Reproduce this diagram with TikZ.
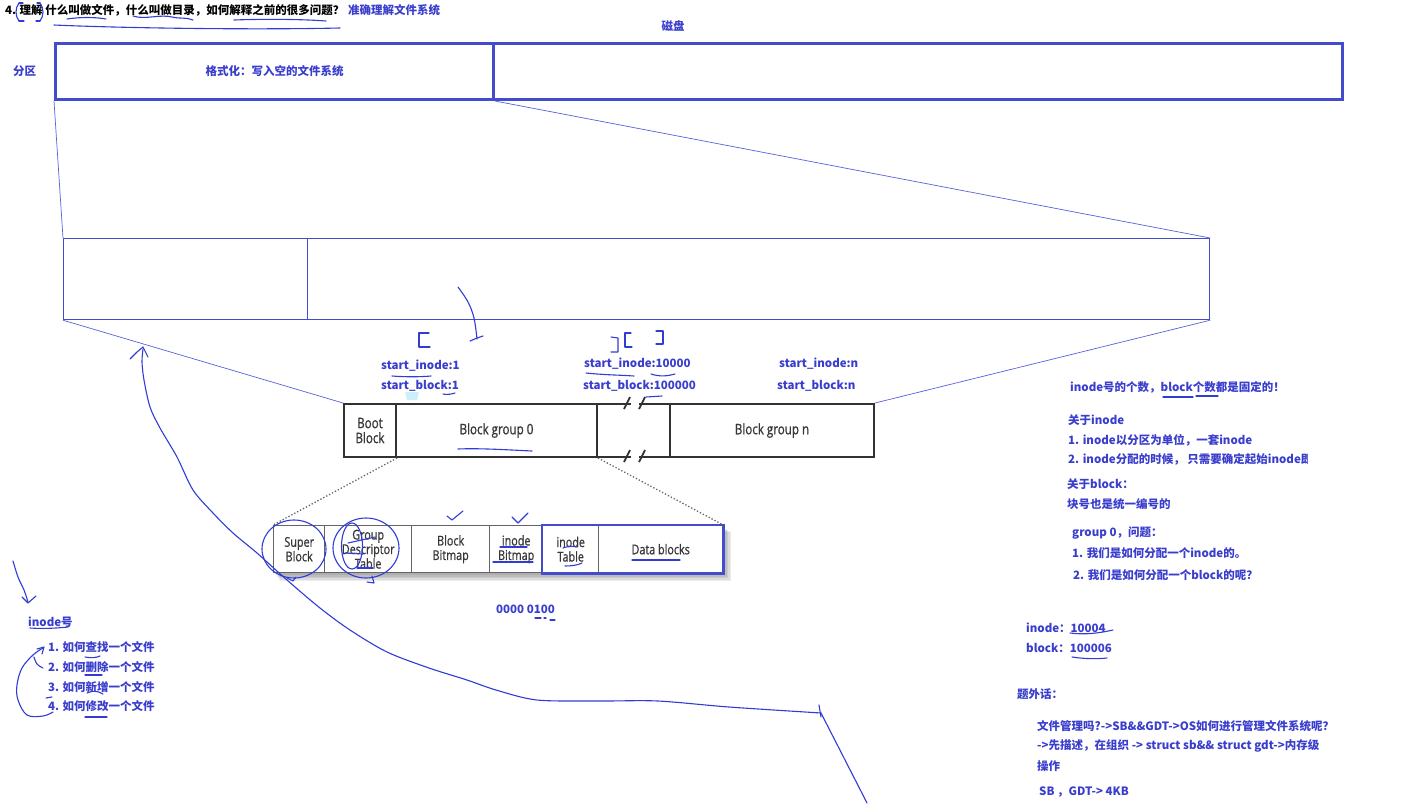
\documentclass[tikz,border=0pt]{standalone}
\usepackage{fontspec}
\setmainfont{Noto Sans CJK SC}
\newfontfamily\condf[FakeStretch=0.8, FakeBold=0.8]{Open Sans}
\definecolor{tblue}{RGB}{58,62,205}
\definecolor{inkblue}{RGB}{48,60,212}
\definecolor{rblue}{RGB}{66,76,204}
\definecolor{lblue}{RGB}{88,98,220}
\definecolor{ggray}{RGB}{50,50,50}
\definecolor{sgray}{RGB}{100,100,100}
\definecolor{gtext}{RGB}{55,55,55}
\begin{document}
\begin{tikzpicture}[x=1pt,y=-1pt]
\tikzset{
 bt/.style={inner sep=0, anchor=west, text=tblue, font=\bfseries\fontsize{11.5}{13}\selectfont},
 ink/.style={draw=inkblue, line width=1.1pt, line cap=round, line join=round},
 proj/.style={draw=lblue, line width=0.7pt},
 diskbox/.style={draw=rblue, line width=3pt, inner sep=0, anchor=north west, minimum height=56pt},
 partbox/.style={draw=rblue, line width=1.2pt, inner sep=0, anchor=north west, minimum height=81pt},
 gbox/.style={draw=ggray, line width=2pt, inner sep=0, anchor=north west, minimum height=53pt, align=center, text=gtext, font=\condf\fontsize{14.5}{16}\selectfont},
 sbox/.style={draw=sgray, line width=1.4pt, fill=white, inner sep=0, anchor=north west, minimum height=47pt, align=center, text=gtext, font=\condf\fontsize{13.5}{14.5}\selectfont},
}
\useasboundingbox[fill=white] (0,0) rectangle (1416,804);

% title
\node[bt, text=black] (title) at (5,10) {4. 理解 什么叫做文件，什么叫做目录，如何解释之前的很多问题？};
\node[bt] (acc) at (348,10) {准确理解文件系统};
\node[bt, anchor=center] (disklbl) at (673,26) {磁盘};
\node[bt] (fenqu) at (13,71) {分区};

% disk
\node[diskbox, minimum width=438pt, text=tblue, font=\bfseries\fontsize{11.5}{13}\selectfont] (part) at (54,42) {格式化：写入空的文件系统};
\node[diskbox, minimum width=849pt] (rest) at (492,42) {};

% partition detail
\node[partbox, minimum width=244pt] (lp) at (63,238) {};
\node[partbox, minimum width=902pt] (rp) at (307,238) {};

% block groups
\node[gbox, minimum width=52pt] (boot) at (343,403) {Boot\\[-1pt]Block};
\node[gbox, minimum width=201pt] (bg0) at (395,403) {Block group 0};
\node[gbox, minimum width=73pt] (gap) at (596,403) {};
\node[gbox, minimum width=204pt] (bgn) at (669,403) {Block group n};
\fill[white] (631,399) rectangle (639,407);
\fill[white] (631,452) rectangle (639,460);
\draw[ggray, line width=1.8pt] (624,409) -- (630,397) (639,409) -- (645,397);
\draw[ggray, line width=1.8pt] (624,462) -- (630,450) (639,462) -- (645,450);

% projection lines
\draw[proj] (part.south west) -- (lp.north west);
\draw[proj] (part.south east) -- (rp.north east);
\draw[proj] (lp.south west) -- (boot.north west);
\draw[proj] (rp.south east) -- (bgn.north east);

% shadow of lower box
\foreach \i in {1,...,5}{
  \fill[black, opacity=0.07] (275+\i,527+\i) rectangle (724+1.4*\i,574+1.4*\i);
}
\node[sbox, minimum width=51pt] (sb) at (273,525) {Super\\Block};
\node[sbox, minimum width=87pt] (gdt) at (324,525) {Group\\Descriptor\\Table};
\node[sbox, minimum width=78pt] (bbm) at (411,525) {Block\\Bitmap};
\node[sbox, minimum width=53pt] (ibm) at (489,525) {inode\\Bitmap};
\node[sbox, minimum width=56pt] (itb) at (542,525) {inode\\Table};
\node[sbox, minimum width=124pt] (db) at (598,525) {Data blocks};
\draw[rblue, line width=2.2pt] (itb.north west) rectangle (db.south east);

\draw[sgray, dotted, line width=1.3pt] (boot.south east) -- (sb.north west);
\draw[sgray, dotted, line width=1.3pt] (bg0.south east) -- (db.north east);

% start labels
\node[bt] (si1) at (381,366) {start\_inode:1};
\node[bt] (sb1) at (381,386) {start\_block:1};
\node[bt] (si2) at (584,364) {start\_inode:10000};
\node[bt] (sb2) at (583,386) {start\_block:100000};
\node[bt] (si3) at (779,364) {start\_inode:n};
\node[bt] (sb3) at (777,386) {start\_block:n};
\node[bt] (bits) at (496,609) {0000 0100};

% right notes
\node[bt] (r1) at (1070,387) {inode号的个数，block个数都是固定的！};
\node[bt] (r2) at (1068,420) {关于inode};
\node[bt] (r3) at (1068,440) {1. inode以分区为单位，一套inode};
\begin{scope}
\clip (1000,448) rectangle (1307,470);
\node[bt] (r4) at (1068,459) {2. inode分配的时候， 只需要确定起始inode即可};
\end{scope}
\node[bt] (r5) at (1067,484) {关于block：};
\node[bt] (r6) at (1067,504) {块号也是统一编号的};
\node[bt] (r7) at (1072,533) {group 0，问题：};
\node[bt] (r8) at (1072,553) {1. 我们是如何分配一个inode的。};
\node[bt] (r9) at (1073,575) {2. 我们是如何分配一个block的呢？};
\node[bt] (n1) at (1026,628) {inode：10004};
\node[bt] (n2) at (1026,648) {block：100006};
\node[bt] (n3) at (1017,694) {题外话：};
\node[bt] (n4) at (1037,726) {文件管理吗?->SB\&\&GDT->OS如何进行管理文件系统呢？};
\node[bt] (n5) at (1037,746) {->先描述，在组织 -> struct sb\&\& struct gdt->内存级};
\node[bt] (n6) at (1037,766) {操作};
\node[bt] (n7) at (1039,792) {SB ，GDT-> 4KB};

% left list
\node[bt] (inum) at (28,622) {inode号};
\node[bt] (l1) at (48,647) {1. 如何查找一个文件};
\node[bt] (l2) at (48,667) {2. 如何删除一个文件};
\node[bt] (l3) at (48,687) {3. 如何新增一个文件};
\node[bt] (l4) at (48,706) {4. 如何修改一个文件};

% ---- handwritten ink ----
% title
\draw[ink] (19,3) .. controls (15,8) and (15,16) .. (19,21);
\draw[ink] (40,3) .. controls (44,8) and (44,16) .. (40,21);
\draw[ink] (19,3) -- (23,3) (19,21) -- (24,21) (40,3) -- (37,3) (40,21) -- (36,21);
\draw[ink] (67,19) .. controls (80,17) and (95,17) .. (106,19);
\draw[ink] (133,16) .. controls (145,20) and (160,14) .. (172,17) .. controls (180,19) and (186,17) .. (193,20);
\draw[ink] (234,20) .. controls (260,19) and (300,19) .. (326,21);
\draw[ink] (54,25) .. controls (120,28) and (250,30) .. (340,28);

% brackets near start labels
\draw[ink] (429,333) -- (419,333) -- (419,347) -- (430,347);
\draw[ink] (611,337) -- (618,338) -- (618,352) -- (611,352);
\draw[ink] (631,333) -- (625,333) -- (625,347) -- (632,347);
\draw[ink] (656,331) -- (663,331) -- (663,344) -- (656,344);
% stroke above
\draw[ink] plot[smooth, tension=0.6] coordinates {(458,287) (468,302) (474,318) (477,339)};
\draw[ink] (470,341) -- (477,338) -- (483,336);
% underlines start labels
\draw[ink] (392,376) .. controls (405,377) and (420,377) .. (431,376);
\draw[ink] (443,394) .. controls (447,395) and (452,394) .. (455,393);
\draw[ink] (586,373) .. controls (605,375) and (620,375) .. (634,376);
\draw[ink] (651,374) .. controls (660,377) and (668,376) .. (675,374);
\draw[ink] (646,397) -- (662,396);
\fill[cyan!20] (405,392) -- (419,392) -- (417,400) -- (407,400) -- cycle;
% block group 0 underline
\draw[ink] (458,449) .. controls (480,448) and (510,450) .. (532,451);
% checks
\draw[ink] (447,516) -- (452,520) -- (463,511);
\draw[ink] (512,517) -- (518,523) -- (528,513);
% circles
\draw[ink] (294,549) ellipse [x radius=32pt, y radius=29pt];
\draw[ink] (366,548) ellipse [x radius=33pt, y radius=30pt];
\draw[ink] (352,546) ellipse [x radius=10.5pt, y radius=23pt];
\draw[ink] (348,543) -- (375,537);
\draw[ink] (345,553) -- (363,554);
\draw[ink] (357,568) -- (373,568);
\draw[ink] (367,582) -- (374,583) -- (372,576);
\draw[ink] (287,578) -- (293,581) -- (296,577);
% lower box underlines
\draw[ink] (500,547) -- (527,547);
\draw[ink] (493,562) -- (533,562);
\draw[ink] (563,548) .. controls (568,546) and (573,546) .. (577,547);
\draw[ink] (565,566) .. controls (572,566) and (578,565) .. (582,563);
\draw[ink] (632,560) -- (680,560);
\draw[ink] (535,618) -- (541,618) (544,618) -- (546,618) (550,620) -- (555,620);
% long curve with arrow
\draw[ink] plot[smooth, tension=0.5] coordinates {(143,349) (142,362) (144,380) (150,407) (160,428) (177,457) (193,490) (213,513) (233,533) (257,553) (287,580) (320,608) (350,630) (387,652) (429,668) (467,680) (496,690) (537,700) (600,701) (658,701) (729,707) (821,713)};
\draw[ink] (130,359) -- (137,352) -- (143,347) -- (148,357);
\draw[ink] (819,705) -- (821,717);
\draw[ink] (821,713) -- (867,803);
% right underlines
\draw[ink] (1163,397) -- (1193,397) (1196,396) -- (1218,396);
\draw[ink] (1070,633) .. controls (1085,635) and (1100,633) .. (1113,630);
\draw[ink] (1072,657) .. controls (1085,659) and (1098,659) .. (1107,658);
% left ink
\draw[ink] plot[smooth, tension=0.6] coordinates {(13,561) (18,577) (24,590) (28,602)};
\draw[ink] (22,597) -- (28,603) -- (36,596);
\draw[ink] (30,628) .. controls (45,629) and (58,628) .. (68,627);
\draw[ink] plot[smooth, tension=0.6] coordinates {(53,712) (43,716) (27,715) (18,700) (17,685) (22,668) (33,655) (43,648)};
\draw[ink] (37,649) -- (44,647) -- (42,654);
\draw[ink] plot[smooth, tension=0.6] coordinates {(34,657) (37,664) (43,668)};
\draw[ink] (46,698) -- (52,697);
\draw[ink] (85,657) .. controls (90,658) and (96,658) .. (100,656);
\draw[ink] (85,675) -- (102,675);
\draw[ink] (87,693) .. controls (93,690) and (98,691) .. (103,694);
\draw[ink] (85,717) -- (107,717);
\end{tikzpicture}
\end{document}
